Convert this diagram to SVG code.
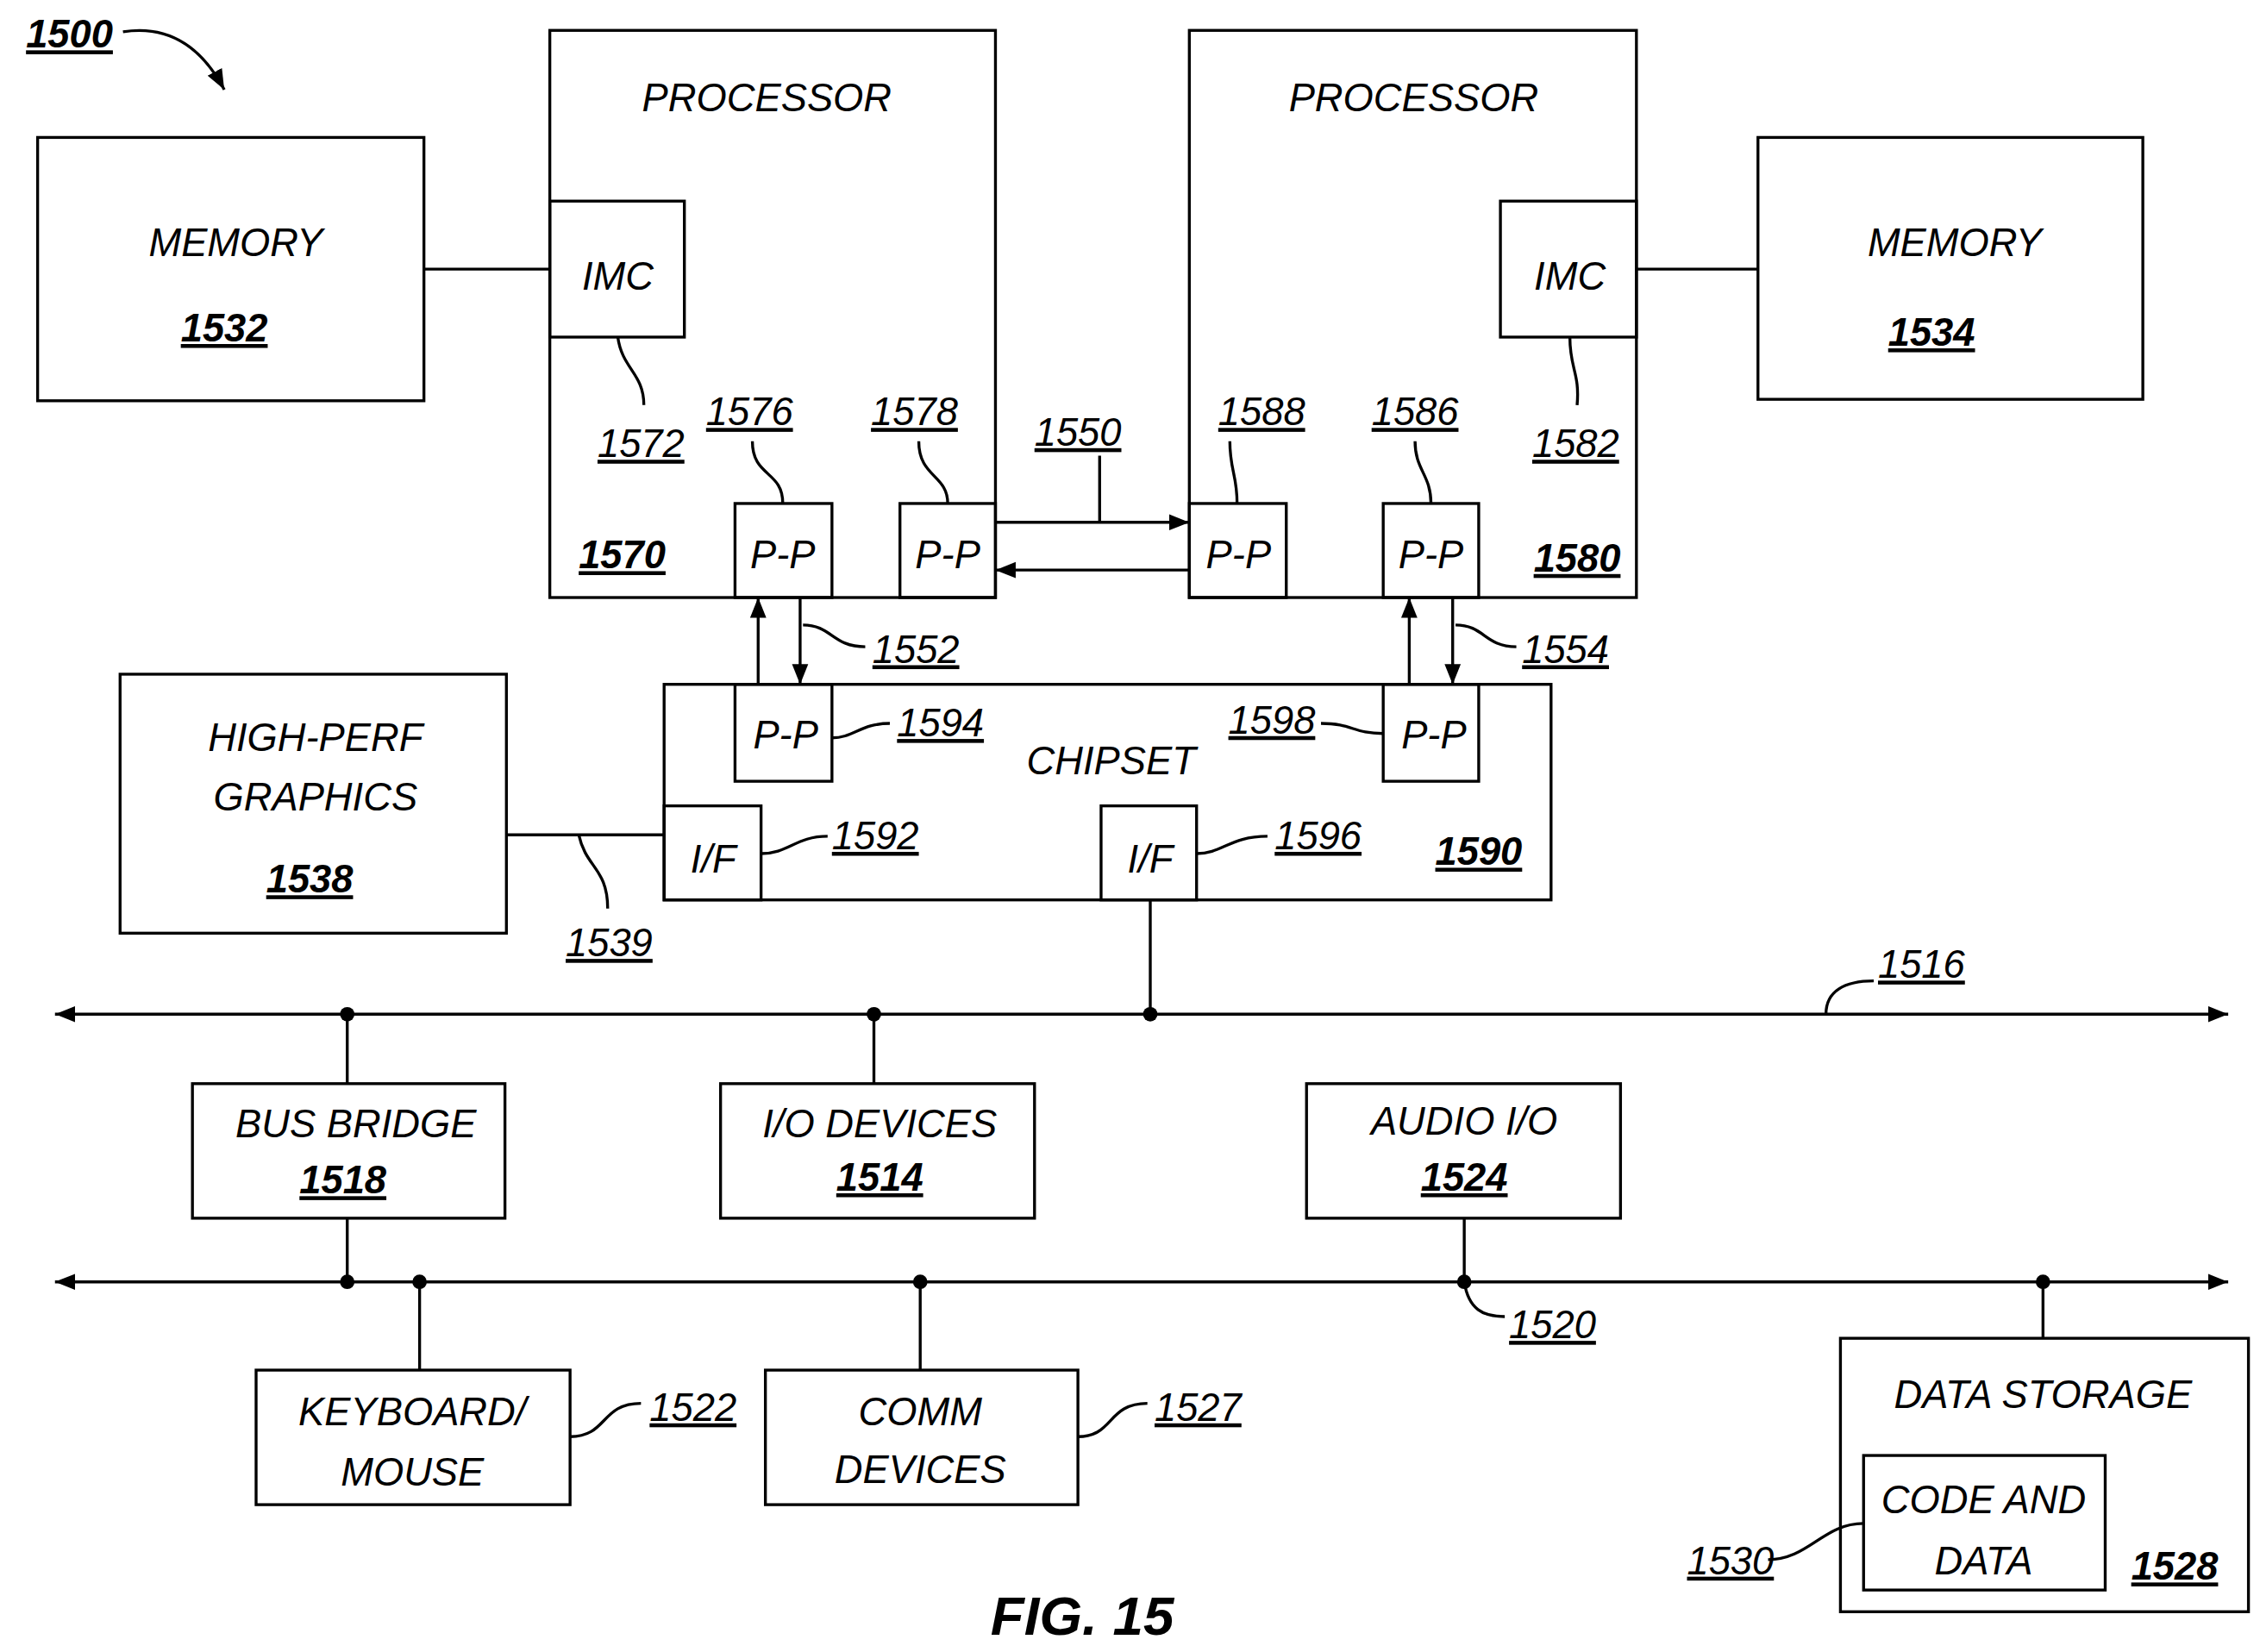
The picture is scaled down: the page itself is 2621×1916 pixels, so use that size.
<svg xmlns="http://www.w3.org/2000/svg" width="2621" height="1916" viewBox="0 0 2621 1916">
<style>
rect{fill:none;stroke:#000;stroke-width:2}
.l{fill:none;stroke:#000;stroke-width:2}
text{font-family:"Liberation Sans",Arial,sans-serif;font-style:italic;font-size:27px;text-anchor:middle;fill:#000}
.n{font-weight:bold;text-decoration:underline}
.r{text-decoration:underline}
</style>
<defs>
<marker id="a" viewBox="0 0 10 10" refX="10" refY="5" markerWidth="7" markerHeight="7" markerUnits="userSpaceOnUse" orient="auto-start-reverse"><path d="M0,1 L10,5 L0,9 z" fill="#000"/></marker>
<marker id="b" viewBox="0 0 10 10" refX="10" refY="5" markerWidth="14" markerHeight="14" markerUnits="userSpaceOnUse" orient="auto-start-reverse"><path d="M0,1 L10,5 L0,9 z" fill="#000"/></marker>
</defs>
<rect x="0" y="0" width="2621" height="1916" style="fill:#fff;stroke:none"/>
<g transform="scale(1.678)">
<g id="title"><text x="48" y="33" class="n">1500</text><path class="l" d="M85,22 Q130,15 155,62" marker-end="url(#b)"/></g>
<g id="mem1532"><rect x="26" y="95" width="267" height="182"/><text x="163" y="177">MEMORY</text><text x="155" y="236" class="n">1532</text></g>
<g id="proc1570"><rect x="380" y="21" width="308" height="392"/><text x="530" y="77">PROCESSOR</text><text x="430" y="393" class="n">1570</text>
<rect x="380" y="139" width="93" height="94"/><text x="427" y="200">IMC</text><text x="443" y="316" class="r">1572</text>
<rect x="508" y="348" width="67" height="65"/><text x="541" y="393">P-P</text><text x="518" y="294" class="r">1576</text>
<rect x="622" y="348" width="66" height="65"/><text x="655" y="393">P-P</text><text x="632" y="294" class="r">1578</text></g>
<g id="proc1580"><rect x="822" y="21" width="309" height="392"/><text x="977" y="77">PROCESSOR</text><text x="1090" y="395" class="n">1580</text>
<rect x="1037" y="139" width="94" height="94"/><text x="1085" y="200">IMC</text><text x="1089" y="316" class="r">1582</text>
<rect x="822" y="348" width="67" height="65"/><text x="856" y="393">P-P</text><text x="872" y="294" class="r">1588</text>
<rect x="956" y="348" width="66" height="65"/><text x="989" y="393">P-P</text><text x="978" y="294" class="r">1586</text></g>
<g id="mem1534"><rect x="1215" y="95" width="266" height="181"/><text x="1351" y="177">MEMORY</text><text x="1335" y="239" class="n">1534</text></g>
<g id="chipset"><rect x="459" y="473" width="613" height="149"/><text x="768" y="535">CHIPSET</text><text x="1022" y="598" class="n">1590</text>
<rect x="508" y="473" width="67" height="67"/><text x="543" y="517">P-P</text><text x="650" y="509" class="r">1594</text>
<rect x="956" y="473" width="66" height="67"/><text x="991" y="517">P-P</text><text x="879" y="507" class="r">1598</text>
<rect x="459" y="557" width="67" height="65"/><text x="493" y="603">I/F</text><text x="605" y="587" class="r">1592</text>
<rect x="761" y="557" width="66" height="65"/><text x="795" y="603">I/F</text><text x="911" y="587" class="r">1596</text></g>
<g id="graphics"><rect x="83" y="466" width="267" height="179"/><text x="218" y="519">HIGH-PERF</text><text x="218" y="560">GRAPHICS</text><text x="214" y="617" class="n">1538</text></g>
<g id="busbridge"><rect x="133" y="749" width="216" height="93"/><text x="246" y="786">BUS BRIDGE</text><text x="237" y="825" class="n">1518</text></g>
<g id="iodev"><rect x="498" y="749" width="217" height="93"/><text x="608" y="786">I/O DEVICES</text><text x="608" y="823" class="n">1514</text></g>
<g id="audio"><rect x="903" y="749" width="217" height="93"/><text x="1012" y="784">AUDIO I/O</text><text x="1012" y="823" class="n">1524</text></g>
<g id="kbd"><rect x="177" y="947" width="217" height="93"/><text x="285" y="985">KEYBOARD/</text><text x="285" y="1027">MOUSE</text><text x="479" y="982" class="r">1522</text></g>
<g id="comm"><rect x="529" y="947" width="216" height="93"/><text x="636" y="985">COMM</text><text x="636" y="1025">DEVICES</text><text x="828" y="982" class="r">1527</text></g>
<g id="storage"><rect x="1272" y="925" width="282" height="189"/><text x="1412" y="973">DATA STORAGE</text><text x="1503" y="1092" class="n">1528</text>
<rect x="1288" y="1006" width="167" height="93"/><text x="1371" y="1046">CODE AND</text><text x="1371" y="1088">DATA</text><text x="1196" y="1088" class="r">1530</text></g>
<g id="labels"><text x="745" y="308" class="r">1550</text><text x="633" y="458" class="r">1552</text><text x="1082" y="458" class="r">1554</text><text x="421" y="661" class="r">1539</text><text x="1328" y="676" class="r">1516</text><text x="1073" y="925" class="r">1520</text>
<text x="748" y="1130" style="font-weight:bold;font-size:38px">FIG. 15</text></g>
<g id="connectors">
<path class="l" d="M293,186H380M1131,186H1215M350,577H459"/>
<path class="l" d="M688,361H822" marker-end="url(#b)"/>
<path class="l" d="M822,394H688" marker-end="url(#b)"/>
<path class="l" d="M524,473V413" marker-end="url(#b)"/>
<path class="l" d="M553,413V473" marker-end="url(#b)"/>
<path class="l" d="M974,473V413" marker-end="url(#b)"/>
<path class="l" d="M1004,413V473" marker-end="url(#b)"/>
<path class="l" d="M38,701H1540" marker-start="url(#b)" marker-end="url(#b)"/>
<path class="l" d="M38,886H1540" marker-start="url(#b)" marker-end="url(#b)"/>
<path class="l" d="M795,622V701M240,701V749M604,701V749M240,842V886M1012,842V886M290,886V947M636,886V947M1412,886V925"/>
<g fill="#000"><circle cx="240" cy="701" r="5"/><circle cx="604" cy="701" r="5"/><circle cx="795" cy="701" r="5"/><circle cx="240" cy="886" r="5"/><circle cx="290" cy="886" r="5"/><circle cx="636" cy="886" r="5"/><circle cx="1012" cy="886" r="5"/><circle cx="1412" cy="886" r="5"/></g>
<path class="l" d="M427,233C430,255 445,258 445,280M541,348C541,325 520,330 520,305M655,348C655,328 635,330 635,305M1085,233C1085,255 1092,258 1090,280M855,348C855,328 850,325 850,305M989,348C989,328 978,325 978,305M760,361C760,340 760,330 760,315M555,432C575,432 575,447 598,447M1006,432C1026,432 1026,447 1048,447M575,510C590,510 595,500 615,500M956,507C935,507 935,500 913,500M526,590C545,590 550,578 572,578M827,590C845,590 850,578 876,578M400,577C405,600 420,600 420,628M1262,701C1262,685 1275,678 1295,678M1012,886C1015,905 1025,910 1040,910M394,993C420,993 415,970 443,970M745,993C770,993 765,970 793,970M1222,1078C1250,1078 1260,1053 1288,1053"/>
</g>
</g>
</svg>
